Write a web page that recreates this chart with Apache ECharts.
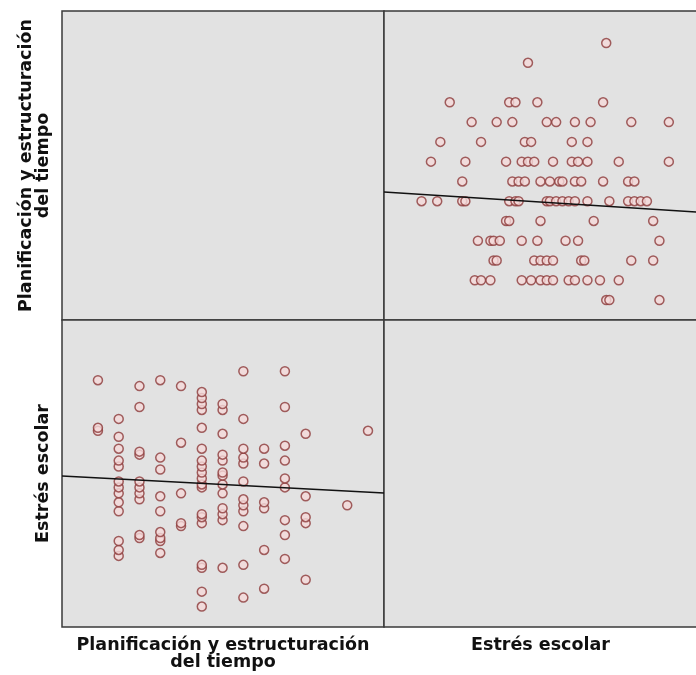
<!DOCTYPE html>
<html>
<head>
<meta charset="utf-8">
<script src="https://cdn.jsdelivr.net/npm/echarts@6/dist/echarts.min.js"></script>
<style>
  html, body { margin: 0; padding: 0; background: #ffffff; }
  #chart { width: 696px; height: 675px; }
</style>
</head>
<body>
<div id="chart"></div>
<script>
// Niveles de "Planificación y estructuración del tiempo"
const nivelesPlanificacion = [18, 17, 15, 14, 13, 12, 11, 10, 9, 8, 7, 6, 5];

// Puntuaciones de estrés escolar de los participantes en cada nivel
const estresPorNivel = [
  [71],
  [46],
  [21, 40, 42, 49, 70],
  [28, 36, 41, 52, 55, 61, 66, 79, 91],
  [18, 31, 45, 47, 60, 65],
  [15, 26, 39, 44, 46, 48, 54, 60, 62, 65, 75, 91],
  [25, 41, 43, 45, 50, 53, 56, 57, 61, 63, 70, 78, 80],
  [12, 17, 25, 26, 40, 42, 43, 52, 53, 55, 57, 59, 61, 65, 72, 78, 80, 82, 84],
  [39, 40, 50, 67, 86],
  [30, 34, 35, 37, 44, 49, 58, 62, 88],
  [35, 36, 48, 50, 52, 54, 63, 64, 79, 86],
  [29, 31, 34, 44, 47, 50, 52, 54, 59, 61, 65, 69, 75],
  [71, 72, 88]
];

// Rectas de ajuste lineal: [intercepto, pendiente]
const rectaPlanSobreEstres = [10.46, -0.0101];   // planificación = a + b · estrés
const rectaEstresSobrePlan = [57.0, -0.368];     // estrés = a + b · planificación

// Etiquetas de las variables
const nombrePlan = 'Planificación y estructuración\ndel tiempo';
const nombreEstres = 'Estrés escolar';

// Extensión de los ejes en cada celda
const ejeEstresArriba = [0, 100];
const ejePlanArriba = [3.99, 19.62];
const ejePlanAbajo = [3.27, 18.77];
const ejeEstresAbajo = [5.13, 108.2];

// Pares (planificación, estrés)
const pares = [];
nivelesPlanificacion.forEach((p, i) => {
  estresPorNivel[i].forEach(e => pares.push([p, e]));
});

const fuente = {
  fontFamily: 'DejaVu Sans',
  fontWeight: 'bold',
  fontSize: 17.5,
  lineHeight: 17,
  color: '#111111'
};

const fondoCelda = '#e2e2e2';
const bordeCelda = '#3a3a3a';

function celda(left, top, width, height) {
  return {
    left, top, width, height,
    show: true,
    backgroundColor: fondoCelda,
    borderColor: bordeCelda,
    borderWidth: 1.5,
    containLabel: false,
    outerBoundsMode: 'none'
  };
}

function eje(rango, gridIndex, nombre, gap) {
  return {
    type: 'value',
    gridIndex,
    min: rango[0],
    max: rango[1],
    axisLine: { show: false },
    axisTick: { show: false },
    axisLabel: { show: false },
    splitLine: { show: false },
    name: nombre || '',
    nameLocation: 'middle',
    nameGap: gap || 0,
    nameTextStyle: fuente
  };
}

const estiloPunto = {
  color: '#f5dada',
  borderColor: '#8c3a3a',
  borderWidth: 1.5
};

function recta(coef, rango) {
  return rango.map(v => [v, coef[0] + coef[1] * v]);
}

const chart = echarts.init(document.getElementById('chart'), null, { renderer: 'canvas' });

chart.setOption({
  animation: false,
  backgroundColor: '#ffffff',
  grid: [
    celda(62, 11, 322, 309),
    celda(384, 11, 313, 309),
    celda(62, 320, 322, 307),
    celda(384, 320, 313, 307)
  ],
  xAxis: [
    eje(ejePlanAbajo, 0),
    eje(ejeEstresArriba, 1),
    eje(ejePlanAbajo, 2, nombrePlan, 10),
    eje(ejeEstresArriba, 3, nombreEstres, 10)
  ],
  yAxis: [
    eje(ejePlanArriba, 0, nombrePlan, 10),
    eje(ejePlanArriba, 1),
    eje(ejeEstresAbajo, 2, nombreEstres, 10),
    eje(ejeEstresAbajo, 3)
  ],
  series: [
    {
      type: 'scatter',
      xAxisIndex: 1, yAxisIndex: 1,
      symbol: 'circle', symbolSize: 9,
      itemStyle: estiloPunto,
      data: pares.map(([p, e]) => [e, p]),
      z: 2
    },
    {
      type: 'scatter',
      xAxisIndex: 2, yAxisIndex: 2,
      symbol: 'circle', symbolSize: 9,
      itemStyle: estiloPunto,
      data: pares.map(([p, e]) => [p, e]),
      z: 2
    },
    {
      type: 'line',
      xAxisIndex: 1, yAxisIndex: 1,
      data: recta(rectaPlanSobreEstres, ejeEstresArriba),
      symbol: 'none',
      lineStyle: { color: '#111111', width: 1.5 },
      silent: true,
      z: 3
    },
    {
      type: 'line',
      xAxisIndex: 2, yAxisIndex: 2,
      data: recta(rectaEstresSobrePlan, ejePlanAbajo),
      symbol: 'none',
      lineStyle: { color: '#111111', width: 1.5 },
      silent: true,
      z: 3
    }
  ]
});
</script>
</body>
</html>
